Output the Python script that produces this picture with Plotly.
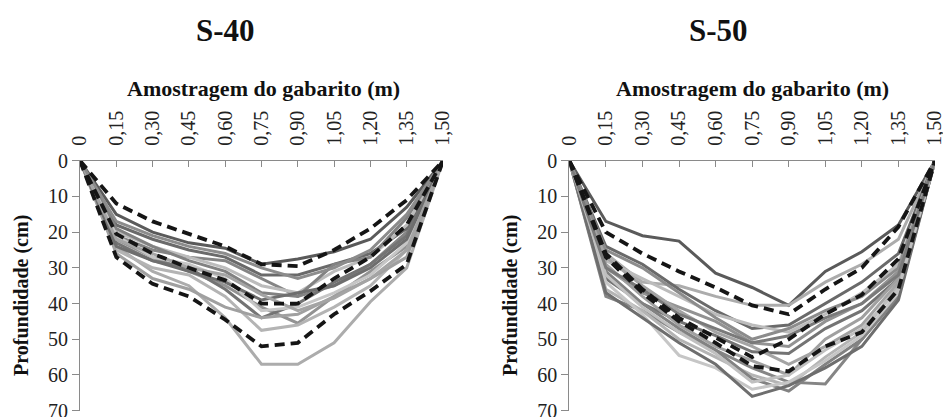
import plotly.graph_objects as go

# ---------------- data ----------------
amostragem_m = [0, 0.15, 0.30, 0.45, 0.60, 0.75, 0.90, 1.05, 1.20, 1.35, 1.50]
x_tick_labels = ["0", "0,15", "0,30", "0,45", "0,60", "0,75", "0,90", "1,05", "1,20", "1,35", "1,50"]
y_tick_values = [0, 10, 20, 30, 40, 50, 60, 70]
subplot_titles = ["S-40", "S-50"]

# S-40: individual profiles (depth, cm)
s40_perfis = [
    [0, 15, 20, 23, 24.5, 29, 27.5, 25.5, 22, 13, 0],
    [0, 21, 25, 27, 28, 33, 38, 35, 29, 20, 0],
    [0, 24, 31, 35, 44, 57, 57, 51, 39.5, 30, 0],
    [0, 18, 22, 25, 27, 32, 32, 29, 26, 19, 0],
    [0, 20, 24, 27, 30, 35, 37, 31, 27, 18, 0],
    [0, 22, 27, 31, 35, 41, 45.5, 38, 31, 24, 0],
    [0, 23, 28, 30, 36, 44, 40, 34, 29, 21, 0],
    [0, 25, 30, 32, 38, 47.5, 46, 41, 35, 25, 0],
    [0, 26, 33, 36, 41, 44, 43, 38, 33, 27, 0],
    [0, 19, 24, 28, 31, 37, 38, 29, 27, 16, 0],
    [0, 21, 27, 29, 33, 42, 41, 37, 32, 23, 0],
    [0, 24, 28, 31, 34, 39, 37, 35, 30, 22, 0],
    [0, 22, 26, 30, 32, 37.5, 42, 38.5, 33, 25, 0],
    [0, 17, 21, 24, 26, 30, 33, 30, 25, 15, 0],
]
# S-40: dashed reference profiles
s40_tracejadas = [
    [0, 12, 17, 20.5, 24, 29, 29.5, 25, 19, 11, 0],
    [0, 20.5, 26, 30, 33.5, 40, 40, 33, 27, 18, 0],
    [0, 27, 34.5, 38, 44.5, 52, 51, 43, 36.5, 29, 0],
]

# S-50: individual profiles (depth, cm)
s50_perfis = [
    [0, 17, 21, 22.5, 31.5, 35.5, 40.5, 31, 25.5, 18, 0],
    [0, 38, 42, 48, 53, 58, 62, 62.5, 50, 38, 0],
    [0, 26, 34, 35, 38, 40.5, 40.5, 34, 29, 22, 0],
    [0, 24, 29, 36, 42, 47, 46, 40, 34, 26, 0],
    [0, 28, 33, 38, 43, 46, 48, 43, 37, 29, 0],
    [0, 30, 37, 41, 45, 51, 52, 45, 40, 31, 0],
    [0, 33, 40, 45, 49, 53.5, 54, 47, 42, 33, 0],
    [0, 36, 42, 50, 55, 60, 63, 55, 48, 35, 0],
    [0, 29, 38, 46, 52, 56, 60, 50, 44, 33, 0],
    [0, 31, 40, 47, 53, 61, 64.5, 57, 50, 38, 0],
    [0, 34, 43, 54.5, 58, 64, 62, 56, 49, 37, 0],
    [0, 37, 44, 51, 57, 66, 63, 58, 52, 39, 0],
    [0, 27, 35, 42, 48, 52, 57, 52, 46, 34, 0],
    [0, 25, 30, 37, 44, 50, 47, 42, 38, 30, 0],
    [0, 32, 41, 48, 54, 62, 60, 53, 47, 36, 0],
    [0, 30, 36, 43, 47, 51, 49, 44, 40, 32, 0],
]
# S-50: dashed reference profiles
s50_tracejadas = [
    [0, 20, 26, 31, 35.5, 40.5, 43, 36, 30, 18.5, 0],
    [0, 26, 36, 44, 49.5, 55, 50, 43, 37.5, 27.5, 0],
    [0, 27, 37, 45, 51, 57.5, 59, 52, 48, 36, 0],
]

# ---------------- styles ----------------
greys = ["#5a5a5a", "#858585", "#acacac", "#6a6a6a", "#bcbcbc", "#939393",
         "#747474", "#b4b4b4", "#a0a0a0", "#828282", "#c6c6c6", "#6e6e6e",
         "#a4a4a4", "#8c8c8c", "#c0c0c0", "#7a7a7a"]

fig = go.Figure()

def add_panel(perfis, tracejadas, xa, ya):
    for i, prof in enumerate(perfis):
        fig.add_trace(go.Scatter(
            x=amostragem_m, y=prof, mode="lines", xaxis=xa, yaxis=ya,
            line=dict(color=greys[i % len(greys)], width=3), showlegend=False,
            hoverinfo="skip"))
    for prof in tracejadas:
        fig.add_trace(go.Scatter(
            x=amostragem_m, y=prof, mode="lines", xaxis=xa, yaxis=ya,
            line=dict(color="#151515", width=3.8, dash="10px,6px"), showlegend=False,
            hoverinfo="skip"))

add_panel(s40_perfis, s40_tracejadas, "x", "y")
add_panel(s50_perfis, s50_tracejadas, "x2", "y2")

W, H = 943, 417
serif = "Liberation Serif, Times New Roman, serif"

dom_y = [1 - 410.7 / H, 1 - 160.7 / H]
dom_x1 = [80 / W, 443 / W]
dom_x2 = [569.3 / W, 935 / W]

xcommon = dict(range=[0, 1.5], side="top", tickmode="array", tickvals=amostragem_m,
               ticktext=x_tick_labels, tickangle=-90, ticks="inside", ticklen=6,
               tickcolor="#8a8a8a", showline=True, linecolor="#8a8a8a", linewidth=1,
               showgrid=False, zeroline=False, ticklabelstandoff=10, automargin=False,
               ticklabeloverflow="allow",
               tickfont=dict(family=serif, size=20, color="#222"))
ycommon = dict(range=[70, 0], tickmode="array", tickvals=y_tick_values,
               ticks="outside", ticklen=7, tickcolor="#8a8a8a", showline=True,
               linecolor="#8a8a8a", linewidth=1, showgrid=False, zeroline=False,
               automargin=False, ticklabeloverflow="allow",
               tickfont=dict(family=serif, size=20, color="#222"))

fig.update_layout(
    width=W, height=H, margin=dict(l=0, r=0, t=0, b=0, pad=0, autoexpand=False),
    paper_bgcolor="white", plot_bgcolor="white",
    xaxis=dict(domain=dom_x1, anchor="y", **xcommon),
    yaxis=dict(domain=dom_y, anchor="x", **ycommon),
    xaxis2=dict(domain=dom_x2, anchor="y2", **xcommon),
    yaxis2=dict(domain=dom_y, anchor="x2", **ycommon),
)

annots = []
for cx, t in zip([225, 718], subplot_titles):
    annots.append(dict(x=cx / W, y=1 - 31 / H, xref="paper", yref="paper", text="<b>%s</b>" % t,
                       showarrow=False, font=dict(family=serif, size=31, color="#111"),
                       xanchor="center", yanchor="middle"))
for cx in [263, 752]:
    annots.append(dict(x=cx / W, y=1 - 88 / H, xref="paper", yref="paper",
                       text="<b>Amostragem do gabarito (m)</b>", showarrow=False,
                       font=dict(family=serif, size=22, color="#111"),
                       xanchor="center", yanchor="middle"))
for cx in [21, 510]:
    annots.append(dict(x=cx / W, y=1 - 296 / H, xref="paper", yref="paper",
                       text="<b>Profundidade (cm)</b>", showarrow=False, textangle=-90,
                       font=dict(family=serif, size=20, color="#111"),
                       xanchor="center", yanchor="middle"))
fig.update_layout(annotations=annots)

fig.write_html("out.html", config={"displayModeBar": False},
               post_script="document.body.style.margin='0';")
